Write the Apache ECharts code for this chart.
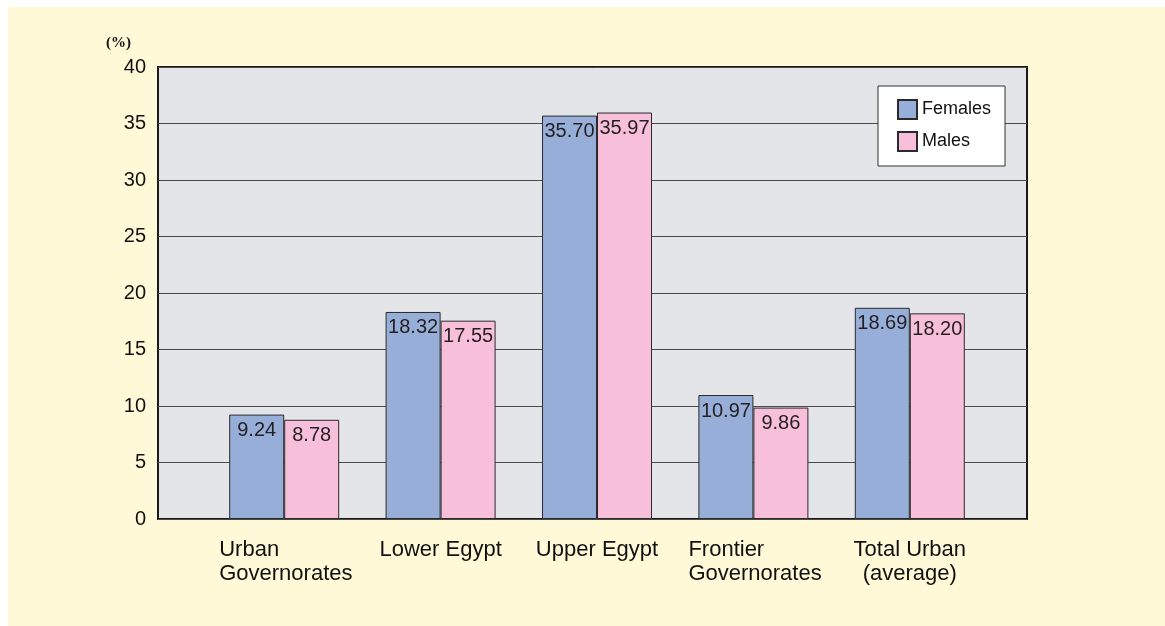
<!DOCTYPE html>
<html><head><meta charset="utf-8">
<script src="https://cdn.jsdelivr.net/npm/echarts@6/dist/echarts.min.js"></script>
<style>
html,body{margin:0;padding:0;background:#fff;}
#bg{position:absolute;left:8px;top:7px;right:0;bottom:0;background:#FFF9D8;}
#c{position:absolute;left:0;top:0;width:1165px;height:626px;}
</style></head>
<body><div id="bg"></div><div id="c"></div>
<script>
const categories = ['Urban\nGovernorates', 'Lower Egypt', 'Upper Egypt', 'Frontier\nGovernorates', 'Total Urban\n(average)'];
const females = [9.24, 18.32, 35.70, 10.97, 18.69];
const males = [8.78, 17.55, 35.97, 9.86, 18.20];
const yTicks = [0, 5, 10, 15, 20, 25, 30, 35, 40];

const chart = echarts.init(document.getElementById('c'), null, {renderer: 'canvas'});
const font = 'Liberation Sans, Arial, sans-serif';
const labelCfg = {
  show: true, position: 'insideTop', distance: 6, color: '#231F20',
  fontFamily: font, fontSize: 20,
  formatter: p => p.value.toFixed(2)
};
chart.setOption({
  animation: false,
  grid: [
    {left: 158, right: 138, top: 67, bottom: 107, show: true, backgroundColor: '#E4E5E8', borderColor: '#1a1a1a', borderWidth: 2},
    {left: 206, right: 177, top: 67, bottom: 107}
  ],
  xAxis: [
    {gridIndex: 0, type: 'category', data: categories, show: false},
    {gridIndex: 1, type: 'category', data: categories,
     axisLine: {show: false}, axisTick: {show: false},
     axisLabel: {interval: 0, hideOverlap: false, margin: 19, color: '#111', fontFamily: font, fontSize: 22, lineHeight: 24,
       formatter: v => {
         if (v.startsWith('Urban') || v.startsWith('Frontier')) {
           return v.split('\n').map(s => '{l|' + s + '}').join('\n');
         }
         return v;
       },
       rich: {l: {width: 134, align: 'left', fontFamily: font, fontSize: 22, lineHeight: 24, color: '#111', padding: [0, 0, 0, 4]}}
     }}
  ],
  yAxis: [
    {gridIndex: 0, type: 'value', min: 0, max: 40, interval: 5,
     axisLine: {show: false}, axisTick: {show: false},
     axisLabel: {margin: 12, color: '#111', fontFamily: font, fontSize: 20,
       formatter: v => yTicks.includes(v) ? String(v) : ''},
     splitLine: {lineStyle: {color: '#4a4a4a', width: 1}}},
    {gridIndex: 1, type: 'value', min: 0, max: 40, interval: 5, show: false, splitLine: {show: false}}
  ],
  legend: {
    orient: 'vertical', left: 878, top: 86,
    backgroundColor: '#ffffff', borderColor: '#333', borderWidth: 1,
    padding: [13, 14, 14, 19], itemGap: 11, itemWidth: 19, itemHeight: 19, icon: 'rect',
    textStyle: {fontFamily: font, fontSize: 18, color: '#111'},
    data: ['Females', 'Males']
  },
  graphic: [
    {type: 'text', left: 106, top: 36, style: {text: '(%)', font: 'bold 15px "Liberation Serif", serif', fill: '#111'}}
  ],
  series: [
    {name: 'Females', type: 'bar', xAxisIndex: 1, yAxisIndex: 1, data: females, barWidth: 55, barGap: '0%',
     itemStyle: {color: '#97AED9', borderColor: '#2a2a2a', borderWidth: 1}, label: labelCfg},
    {name: 'Males', type: 'bar', xAxisIndex: 1, yAxisIndex: 1, data: males, barWidth: 55, barGap: '0%',
     itemStyle: {color: '#F7BFD9', borderColor: '#2a2a2a', borderWidth: 1}, label: labelCfg}
  ]
});
</script></body></html>
